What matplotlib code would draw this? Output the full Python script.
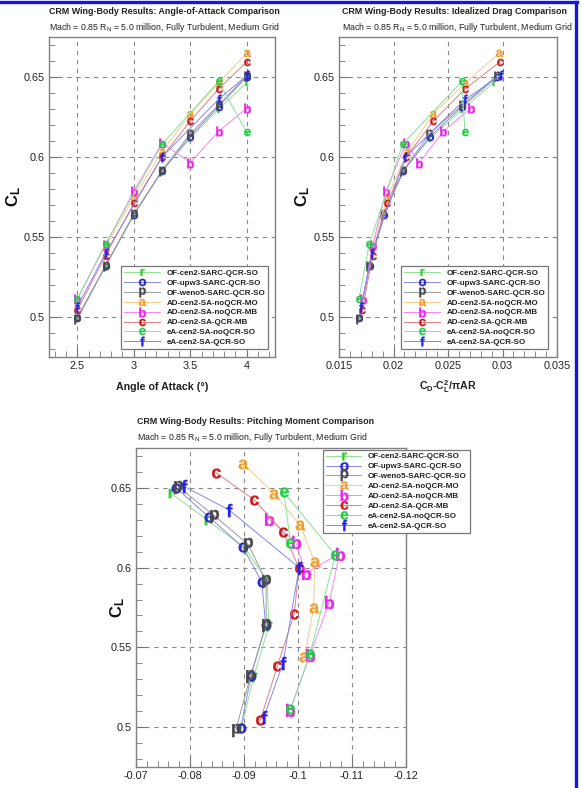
import matplotlib
matplotlib.use('Agg')
import matplotlib.pyplot as plt
from matplotlib.ticker import MultipleLocator, FuncFormatter
from matplotlib.lines import Line2D
import matplotlib.colors as mcolors

plt.rcParams['font.family'] = ['Liberation Sans', 'DejaVu Sans']
plt.rcParams['mathtext.fontset'] = 'custom'
plt.rcParams['mathtext.rm'] = 'Liberation Sans'
plt.rcParams['mathtext.bf'] = 'Liberation Sans:bold'
plt.rcParams['mathtext.it'] = 'Liberation Sans:italic'
plt.rcParams['mathtext.sf'] = 'Liberation Sans'

# ---------------- data ----------------
series_letters = ['r', 'o', 'p', 'a', 'b', 'c', 'e', 'f']
series_labels = ['OF-cen2-SARC-QCR-SO', 'OF-upw3-SARC-QCR-SO', 'OF-weno5-SARC-QCR-SO',
                 'AD-cen2-SA-noQCR-MO', 'AD-cen2-SA-noQCR-MB', 'AD-cen2-SA-QCR-MB',
                 'eA-cen2-SA-noQCR-SO', 'eA-cen2-SA-QCR-SO']

alpha_full = [2.5, 2.75, 3.0, 3.25, 3.5, 3.75, 4.0]
alpha_mo = [2.75, 3.0, 3.25, 3.5, 3.75, 4.0]
alpha_eA = [2.5, 2.75, 3.25, 3.75, 4.0]

cl_r = [0.4995, 0.5315, 0.5635, 0.5915, 0.6118, 0.6298, 0.6466]
cd_r = [0.01685, 0.0178, 0.0191, 0.0209, 0.02335, 0.02632, 0.02922]
cm_r = [-0.0895, -0.0918, -0.0946, -0.0943, -0.0903, -0.0832, -0.0765]

cl_o = [0.4996, 0.5320, 0.5640, 0.5910, 0.6128, 0.6315, 0.6500]
cd_o = [0.01685, 0.0178, 0.0191, 0.0209, 0.02335, 0.02632, 0.02947]
cm_o = [-0.0894, -0.0913, -0.0940, -0.0933, -0.0898, -0.0836, -0.0774]

cl_p = [0.4985, 0.5320, 0.5642, 0.5915, 0.6145, 0.6325, 0.6508]
cd_p = [0.01683, 0.01778, 0.01907, 0.0209, 0.02328, 0.02632, 0.02947]
cm_p = [-0.0885, -0.0912, -0.0941, -0.0941, -0.0908, -0.0845, -0.0778]

cl_a = [0.5440, 0.5748, 0.6033, 0.6269, 0.6462, 0.6650]
cd_a = [0.01805, 0.01943, 0.02127, 0.02365, 0.02656, 0.02972]
cm_a = [-0.1012, -0.1029, -0.1031, -0.1004, -0.0956, -0.0899]

cl_b = [0.5110, 0.5450, 0.5785, 0.6088, 0.5965, 0.6160, 0.6305]
cd_b = [0.01722, 0.01809, 0.01931, 0.02115, 0.02237, 0.02457, 0.02708]
cm_b = [-0.0986, -0.1022, -0.1058, -0.1077, -0.1014, -0.0996, -0.0946]

cl_c = [0.5042, 0.5384, 0.5710, 0.5998, 0.6225, 0.6425, 0.6595]
cd_c = [0.01713, 0.01809, 0.01943, 0.02115, 0.02365, 0.02656, 0.02977]
cm_c = [-0.0930, -0.0962, -0.0993, -0.1002, -0.0972, -0.0919, -0.0848]

cl_e = [0.5113, 0.5458, 0.6080, 0.6472, 0.6155]
cd_e = [0.01683, 0.01778, 0.02084, 0.02626, 0.02656]
cm_e = [-0.0986, -0.1022, -0.1069, -0.0974, -0.0986]

cl_f = [0.5063, 0.5399, 0.6000, 0.6360, 0.6510]
cd_f = [0.01702, 0.0180, 0.0211, 0.02656, 0.02983]
cm_f = [-0.0937, -0.0972, -0.1002, -0.0873, -0.0789]

alphas = [alpha_full, alpha_full, alpha_full, alpha_mo, alpha_full, alpha_full, alpha_eA, alpha_eA]
cls = [cl_r, cl_o, cl_p, cl_a, cl_b, cl_c, cl_e, cl_f]
cds = [cd_r, cd_o, cd_p, cd_a, cd_b, cd_c, cd_e, cd_f]
cms = [cm_r, cm_o, cm_p, cm_a, cm_b, cm_c, cm_e, cm_f]

title_main = ['CRM Wing-Body Results: Angle-of-Attack Comparison',
              'CRM Wing-Body Results: Idealized Drag Comparison',
              'CRM Wing-Body Results: Pitching Moment Comparison']
subtitle = 'Mach = 0.85 R$_{\\mathregular{N}}$ = 5.0 million, Fully Turbulent, Medium Grid'

# ---------------- style ----------------
marker_colors = ['#33cc33', '#2a2ad0', '#4a4a4a', '#f0a030', '#ee22ee', '#cc1a1a', '#22cc44', '#2222ee']
# relative glyph scale (marker size is normalised to the glyph's largest side)
glyph_scale = [0.72, 0.75, 1.0, 0.75, 1.0, 0.75, 0.75, 1.0]


def lighten(c, f):
    r, g, b = mcolors.to_rgb(c)
    return (r + (1 - r) * f, g + (1 - g) * f, b + (1 - b) * f)


line_colors = [lighten(c, 0.45) for c in marker_colors]

W, H = 582, 788
fig = plt.figure(figsize=(W / 100, H / 100), dpi=100)


def fx(px):
    return px / W


def fy(py):
    return 1 - py / H


def add_ax(l, t, r, b):
    return fig.add_axes([fx(l), fy(b), fx(r) - fx(l), (b - t) / H])


fmt = FuncFormatter(lambda v, p: '%g' % round(v, 6))


def style(ax, xlim, xmaj, xmin):
    ax.set_xlim(*xlim)
    ax.set_ylim(0.475, 0.675)
    ax.xaxis.set_major_locator(MultipleLocator(xmaj))
    ax.xaxis.set_minor_locator(MultipleLocator(xmin))
    ax.yaxis.set_major_locator(MultipleLocator(0.05))
    ax.yaxis.set_minor_locator(MultipleLocator(0.01))
    ax.xaxis.set_major_formatter(fmt)
    ax.yaxis.set_major_formatter(fmt)
    ax.grid(True, which='major', linestyle=(0, (4, 4)), color='#8a8a8a', lw=0.8)
    ax.set_axisbelow(True)
    ax.tick_params(which='both', direction='in', top=False, right=False,
                   labelsize=7.8, labelcolor='#222222', color='#777777', pad=3)
    ax.tick_params(which='major', length=7, width=0.8)
    ax.tick_params(which='minor', length=4, width=0.6)
    for s in ax.spines.values():
        s.set_color('#808080')
        s.set_linewidth(1.0)


def draw(ax, xs_list, ms):
    handles = []
    for i, let in enumerate(series_letters):
        h, = ax.plot(xs_list[i], cls[i], color=line_colors[i], lw=0.7,
                     marker='$\\mathbf{%s}$' % let, ms=ms * glyph_scale[i],
                     mfc=marker_colors[i], mec=marker_colors[i], mew=0.2,
                     label=series_labels[i])
        handles.append(h)
    return handles


def legend(ax, handles, anchor, loc, mscale):
    lg = ax.legend(handles=handles, loc=loc, bbox_to_anchor=anchor,
                   bbox_transform=fig.transFigure, borderaxespad=0,
                   fancybox=False, framealpha=1, edgecolor='#777777',
                   prop={'size': 5.8, 'weight': 'bold'}, handlelength=4.4,
                   handletextpad=0.85, labelspacing=0.28, borderpad=0.35,
                   markerscale=mscale)
    lg.get_frame().set_linewidth(0.9)
    for t in lg.get_texts():
        t.set_color('#222222')
    return lg


# --- top-left ---
ax1 = add_ax(49, 37, 275, 357)
style(ax1, (2.25, 4.25), 0.5, 0.1)
h1 = draw(ax1, alphas, 7)
legend(ax1, h1, (fx(268), fy(349)), 'lower right', 1.0)

# --- top-right ---
ax2 = add_ax(339, 37, 557, 357)
style(ax2, (0.015, 0.035), 0.005, 0.001)
h2 = draw(ax2, cds, 7)
legend(ax2, h2, (fx(548), fy(349)), 'lower right', 1.0)

# --- bottom ---
ax3 = add_ax(136, 448, 406, 767)
style(ax3, (-0.07, -0.12), 0.01, 0.002)
h3 = draw(ax3, cms, 9.5)
legend(ax3, h3, (fx(323), fy(450)), 'upper left', 0.85)

# titles
for (x0, yt, ys), t in zip([(49, 12, 27), (342, 12, 27), (137, 421, 437)], title_main):
    fig.text(fx(x0), fy(yt), t, fontsize=6.4, fontweight='bold', color='#222222',
             ha='left', va='center')
    fig.text(fx(x0), fy(ys), subtitle, fontsize=6.3, color='#222222',
             ha='left', va='center')

# axis labels
cl_label = '$\\mathbf{C}_{\\mathbf{L}}$'
for x0, y0 in [(14, 197), (303, 197), (118, 608)]:
    fig.text(fx(x0), fy(y0), cl_label, fontsize=12, rotation=90,
             ha='center', va='center', color='#111111')
fig.text(fx(162), fy(387), 'Angle of Attack (°)', fontsize=7.7, fontweight='bold',
         ha='center', va='center', color='#222222')
fig.text(fx(448), fy(387), 'C$_{\\mathbf{D}}$-C$_{\\mathbf{L}}^{\\mathbf{2}}$/πAR',
         fontsize=7.7, fontweight='bold', ha='center', va='center', color='#222222')

# blue frame
fig.add_artist(Line2D([0, fx(577)], [fy(2), fy(2)], transform=fig.transFigure,
                      color='#1414e6', lw=2.4))
fig.add_artist(Line2D([fx(576), fx(576)], [fy(2), 0], transform=fig.transFigure,
                      color='#1414e6', lw=2.4))

fig.savefig('out.png', dpi=100)
